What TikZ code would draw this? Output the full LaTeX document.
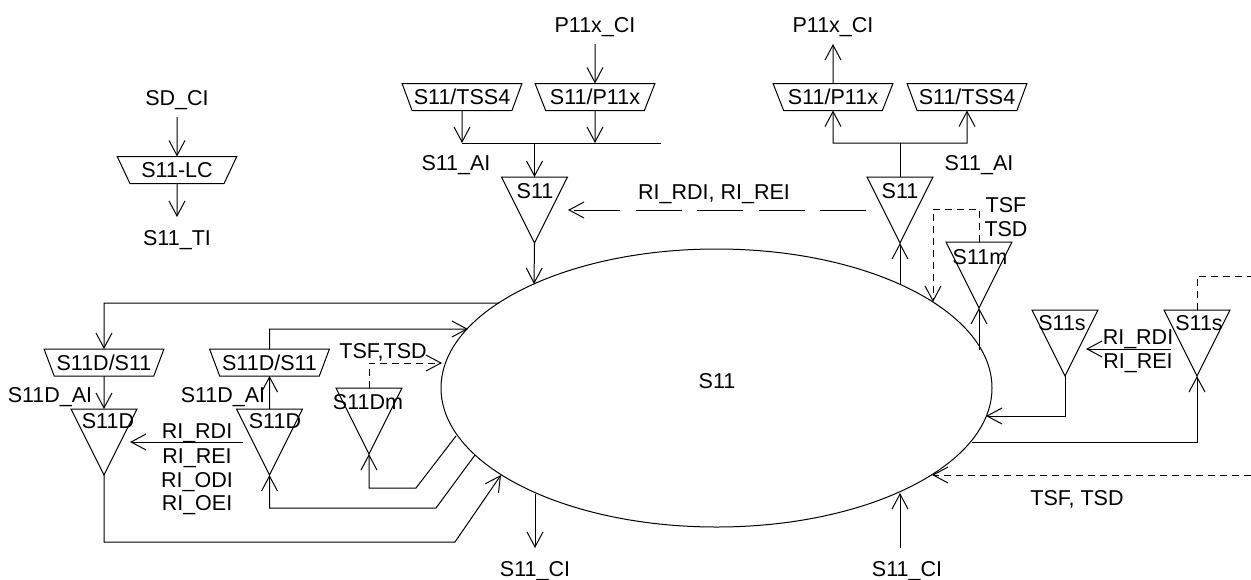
\documentclass[tikz,border=0pt]{standalone}
\usepackage{fontspec}
\setmainfont{Liberation Sans}
\usetikzlibrary{shapes.geometric,arrows.meta}
\tikzset{
  x=1pt,y=-1pt,
  arr/.style={-{Straight Barb[length=15pt,width=16pt,line width=1pt]}},
  dsh/.style={dash pattern=on 7pt off 5pt},
  lbl/.style={inner sep=0pt,outer sep=0pt,text height=15.4pt,text depth=0pt,font=\fontsize{21.5}{21.5}\selectfont},
  tri/.style={draw,isosceles triangle,isosceles triangle stretches,shape border rotate=-90,
    minimum width=66pt,minimum height=66pt,inner sep=0pt,outer sep=0pt,anchor=apex},
  trap/.style={draw,trapezium,trapezium stretches=true,shape border rotate=180,
    trapezium left angle=58,trapezium right angle=58,minimum width=120pt,minimum height=27pt,
    inner sep=0pt,outer sep=0pt,text height=15.4pt,text depth=0pt,font=\fontsize{21.5}{21.5}\selectfont},
}
\begin{document}
\begin{tikzpicture}[line width=1pt]
\useasboundingbox (0,0) rectangle (1251,579);
% main ellipse
\node[draw,ellipse,minimum width=551pt,minimum height=278pt,inner sep=0pt,outer sep=0pt] (E) at (716.5,388) {};
\node[lbl] (Etxt) at (717,381) {S11};
% points on the ellipse
\coordinate (eA) at (534,284);
\coordinate (eB) at (900,284);
\coordinate (eC) at (933,302);
\coordinate (eD) at (979,350);
\coordinate (eE) at (986,416);
\coordinate (eF) at (972,442);
\coordinate (eG) at (932,475);
\coordinate (eH) at (900,493);
\coordinate (eI) at (535,494);
\coordinate (eJ) at (501,475);
\coordinate (eK) at (475,455);
\coordinate (eL) at (456,436);
\coordinate (eM) at (442,363);
\coordinate (eN) at (468,329);
\coordinate (eO) at (499,303);
% SD column
\node[lbl] (sdci) at (177,98) {SD\_CI};
\node[trap] (lc) at (177,170) {S11-LC};
\node[lbl] (ti) at (177,238) {S11\_TI};
\coordinate (tiT) at (177,217);
\coordinate (sdB) at (177,117);
\draw[arr] (sdB) -- (lc.north);
\draw[arr] (lc.south) -- (tiT);
% top left group
\node[lbl] (pl) at (595,25) {P11x\_CI};
\coordinate (plB) at (595,44);
\node[trap] (tl4) at (462,97) {S11/TSS4};
\node[trap] (tlp) at (595,97) {S11/P11x};
\coordinate (bL1) at (462,143);
\coordinate (bL2) at (595,143);
\coordinate (bL3) at (534.5,143);
\coordinate (bL4) at (661,143);
\node[lbl] (ail) at (456,163) {S11\_AI};
\node[tri] (sl) at (534.5,243) {};
\node[lbl] (sltxt) at (535,191) {S11};
\draw[arr] (plB) -- (tlp.north);
\draw[arr] (tl4.south) -- (bL1);
\draw[arr] (tlp.south) -- (bL2);
\draw (bL1) -- (bL4);
\draw[arr] (bL3) -- (sl.lower side);
\draw[arr] (sl.apex) -- (eA);
% top right group
\node[lbl] (pr) at (833,25) {P11x\_CI};
\coordinate (prT) at (833,44);
\node[trap] (trp) at (833,97) {S11/P11x};
\node[trap] (tr4) at (967,97) {S11/TSS4};
\coordinate (bR1) at (833,143);
\coordinate (bR2) at (967,143);
\coordinate (bR3) at (900,143);
\node[lbl] (air) at (979,163) {S11\_AI};
\node[tri] (sr) at (900,243) {};
\node[lbl] (srtxt) at (900,191) {S11};
\draw[arr] (trp.north) -- (prT);
\draw[arr] (bR3) -- (bR1) -- (trp.south);
\draw[arr] (bR3) -- (bR2) -- (tr4.south);
\draw (sr.lower side) -- (bR3);
\draw[arr] (eB) -- (sr.apex);
\node[lbl] (rir) at (714,192) {RI\_RDI, RI\_REI};
\coordinate (rrA) at (866,210);
\coordinate (rrB) at (568,210);
\draw[arr,dash pattern=on 46pt off 15.5pt] (rrA) -- (rrB);
% S11m
\node[tri] (sm) at (979,308) {};
\node[lbl] (smtxt) at (980,257) {S11m};
\node[lbl] (tsf) at (1006,205) {TSF};
\node[lbl] (tsd) at (1006,229) {TSD};
\coordinate (smA) at (979,209);
\coordinate (smB) at (933,209);
\draw[arr] (eD) -- (sm.apex);
\draw[arr,dsh] (sm.lower side) -- (smA) -- (smB) -- (eC);
% S11s pair
\node[tri] (s1) at (1065,376) {};
\node[lbl] (s1txt) at (1062,323) {S11s};
\node[tri] (s2) at (1197,376) {};
\node[lbl] (s2txt) at (1199,323) {S11s};
\node[lbl] (r1) at (1138,337) {RI\_RDI};
\node[lbl] (r2) at (1138,361) {RI\_REI};
\coordinate (raA) at (1171,349);
\coordinate (raB) at (1086,349);
\coordinate (s1k) at (1065,416);
\coordinate (s2k) at (1197,442);
\coordinate (s2a) at (1197,276);
\coordinate (s2b) at (1251,276);
\draw[arr] (raA) -- (raB);
\draw[arr] (s1.apex) -- (s1k) -- (eE);
\draw[arr] (eF) -- (s2k) -- (s2.apex);
\draw[dsh] (s2.lower side) -- (s2a) -- (s2b);
% bottom
\node[lbl] (tt) at (1077,498) {TSF, TSD};
\coordinate (ttR) at (1251,475);
\draw[arr,dsh] (ttR) -- (eG);
\node[lbl] (cir) at (907,569) {S11\_CI};
\node[lbl] (cil) at (535,569) {S11\_CI};
\coordinate (cirT) at (900,548);
\coordinate (cilT) at (535,548);
\draw[arr] (cirT) -- (eH);
\draw[arr] (eI) -- (cilT);
% left group
\node[trap] (dl) at (104,362.5) {S11D/S11};
\node[lbl] (adl) at (50,395) {S11D\_AI};
\node[tri] (dtl) at (104,475) {};
\node[lbl] (dtltxt) at (108,421) {S11D};
\coordinate (tlk) at (104,303);
\coordinate (dlb) at (104,542);
\coordinate (dlc) at (455,542);
\draw[arr] (eO) -- (tlk) -- (dl.north);
\draw[arr] (dl.south) -- (dtl.lower side);
\draw[arr] (dtl.apex) -- (dlb) -- (dlc) -- (eJ);
\node[trap] (dr) at (269.5,362.5) {S11D/S11};
\node[lbl] (adr) at (223,395) {S11D\_AI};
\node[tri] (dtr) at (269.5,475) {};
\node[lbl] (dtrtxt) at (275,421) {S11D};
\coordinate (drk) at (269.5,329);
\coordinate (drb) at (269.5,508);
\coordinate (drc) at (436,508);
\draw[arr] (dr.north) -- (drk) -- (eN);
\draw[arr] (dtr.lower side) -- (dr.south);
\draw[arr] (eK) -- (drc) -- (drb) -- (dtr.apex);
\node[lbl] (q1) at (197,431) {RI\_RDI};
\node[lbl] (q2) at (197,456) {RI\_REI};
\node[lbl] (q3) at (197,480) {RI\_ODI};
\node[lbl] (q4) at (197,503) {RI\_OEI};
\coordinate (qA) at (243,442);
\coordinate (qB) at (130,442);
\draw[arr] (qA) -- (qB);
% S11Dm
\node[tri] (dm) at (369,454) {};
\node[lbl] (dmtxt) at (368,402) {S11Dm};
\node[lbl] (dmt) at (383,351) {TSF,TSD};
\coordinate (dmA) at (369,363);
\coordinate (dmB) at (416,488);
\coordinate (dmC) at (369,488);
\draw[arr] (eL) -- (dmB) -- (dmC) -- (dm.apex);
\draw[arr,dsh] (dm.lower side) -- (dmA) -- (eM);
\end{tikzpicture}
\end{document}
